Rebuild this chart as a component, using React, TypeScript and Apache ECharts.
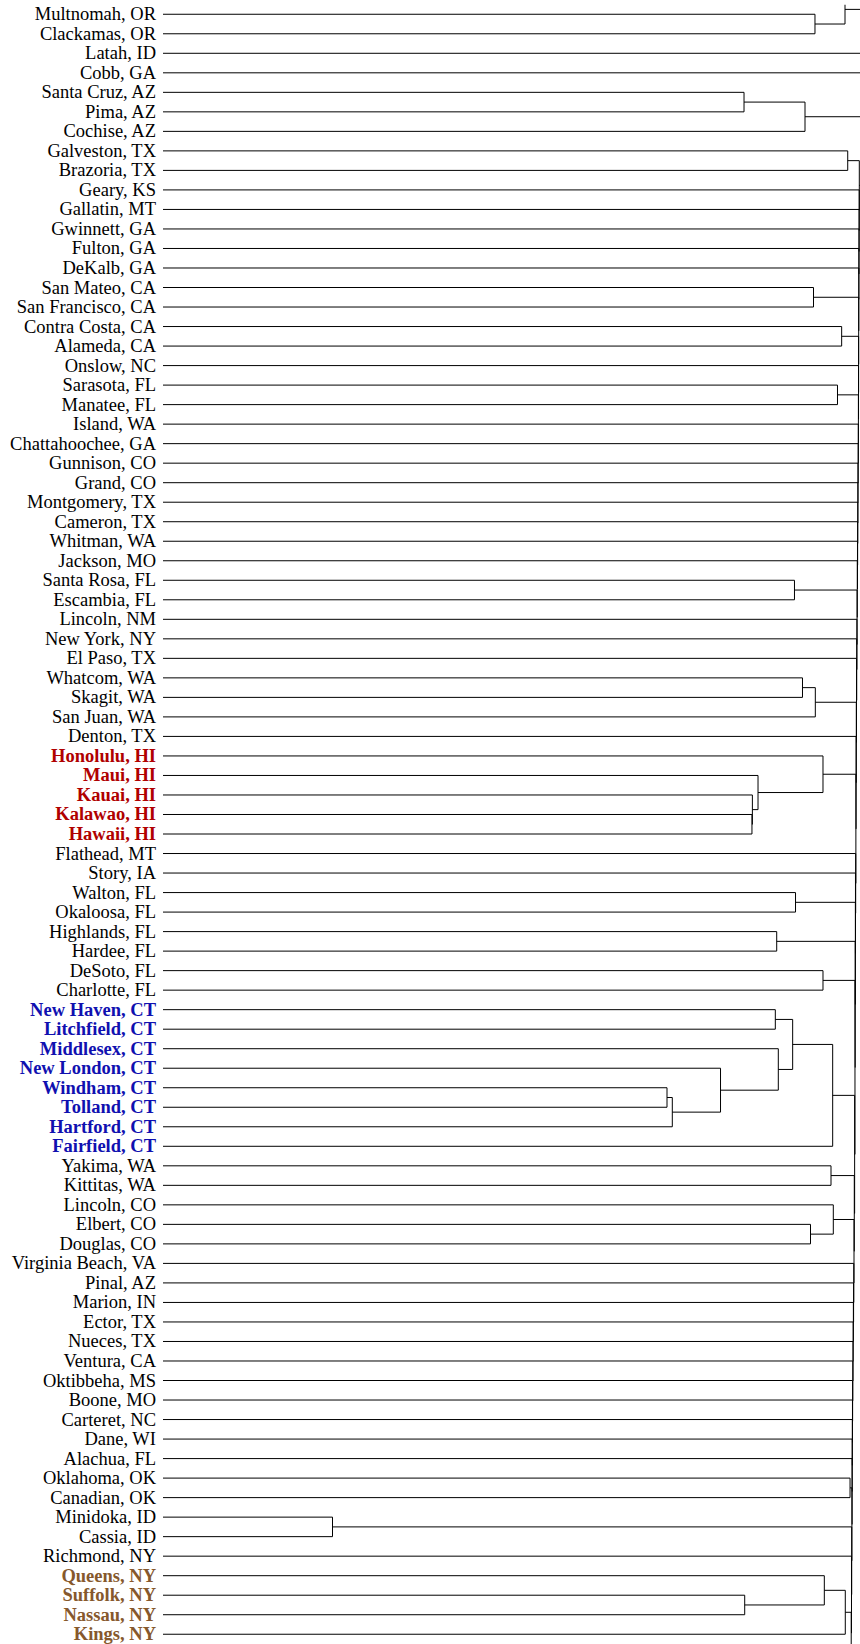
import React, { useEffect, useRef } from "react";
import * as echarts from "echarts";

// Leaf labels, top to bottom
const leafLabels: string[] = [
  "Multnomah, OR", "Clackamas, OR", "Latah, ID", "Cobb, GA", "Santa Cruz, AZ", "Pima, AZ", "Cochise, AZ",
  "Galveston, TX", "Brazoria, TX", "Geary, KS", "Gallatin, MT", "Gwinnett, GA", "Fulton, GA", "DeKalb, GA",
  "San Mateo, CA", "San Francisco, CA", "Contra Costa, CA", "Alameda, CA", "Onslow, NC", "Sarasota, FL",
  "Manatee, FL", "Island, WA", "Chattahoochee, GA", "Gunnison, CO", "Grand, CO", "Montgomery, TX",
  "Cameron, TX", "Whitman, WA", "Jackson, MO", "Santa Rosa, FL", "Escambia, FL", "Lincoln, NM",
  "New York, NY", "El Paso, TX", "Whatcom, WA", "Skagit, WA", "San Juan, WA", "Denton, TX",
  "Honolulu, HI", "Maui, HI", "Kauai, HI", "Kalawao, HI", "Hawaii, HI", "Flathead, MT", "Story, IA",
  "Walton, FL", "Okaloosa, FL", "Highlands, FL", "Hardee, FL", "DeSoto, FL", "Charlotte, FL",
  "New Haven, CT", "Litchfield, CT", "Middlesex, CT", "New London, CT", "Windham, CT", "Tolland, CT",
  "Hartford, CT", "Fairfield, CT", "Yakima, WA", "Kittitas, WA", "Lincoln, CO", "Elbert, CO", "Douglas, CO",
  "Virginia Beach, VA", "Pinal, AZ", "Marion, IN", "Ector, TX", "Nueces, TX", "Ventura, CA", "Oktibbeha, MS",
  "Boone, MO", "Carteret, NC", "Dane, WI", "Alachua, FL", "Oklahoma, OK", "Canadian, OK", "Minidoka, ID",
  "Cassia, ID", "Richmond, NY", "Queens, NY", "Suffolk, NY", "Nassau, NY", "Kings, NY",
];

const hawaiiLeaves = ["Honolulu, HI", "Maui, HI", "Kauai, HI", "Kalawao, HI", "Hawaii, HI"];
const connecticutLeaves = [
  "New Haven, CT", "Litchfield, CT", "Middlesex, CT", "New London, CT",
  "Windham, CT", "Tolland, CT", "Hartford, CT", "Fairfield, CT",
];
const newYorkLeaves = ["Queens, NY", "Suffolk, NY", "Nassau, NY", "Kings, NY"];

// leaves of the full tree that lie just outside the visible window
const OFF_ABOVE = "(off-view above)";
const OFF_BELOW = "(off-view below)";

// [cluster id, child A, child B, merge height]
type Merge = [string, string, string, number];

const subclusterMerges: Merge[] = [
  ["MC", "Multnomah, OR", "Clackamas, OR", 93.54],
  ["MC+", OFF_ABOVE, "MC", 97.85],
  ["SCP", "Santa Cruz, AZ", "Pima, AZ", 83.36],
  ["SCPC", "SCP", "Cochise, AZ", 92.11],
  ["GB", "Galveston, TX", "Brazoria, TX", 98.24],
  ["SMSF", "San Mateo, CA", "San Francisco, CA", 93.33],
  ["CCA", "Contra Costa, CA", "Alameda, CA", 97.37],
  ["SarMan", "Sarasota, FL", "Manatee, FL", 96.77],
  ["SRE", "Santa Rosa, FL", "Escambia, FL", 90.6],
  ["WS", "Whatcom, WA", "Skagit, WA", 91.75],
  ["WA3", "WS", "San Juan, WA", 93.59],
  ["KH", "Kalawao, HI", "Hawaii, HI", 84.5],
  ["KKH", "Kauai, HI", "KH", 84.56],
  ["MKKH", "Maui, HI", "KKH", 85.37],
  ["HI5", "Honolulu, HI", "MKKH", 94.69],
  ["WalOka", "Walton, FL", "Okaloosa, FL", 90.75],
  ["HighHard", "Highlands, FL", "Hardee, FL", 88.05],
  ["DeSChar", "DeSoto, FL", "Charlotte, FL", 94.69],
  ["NHL", "New Haven, CT", "Litchfield, CT", 87.85],
  ["WT", "Windham, CT", "Tolland, CT", 72.31],
  ["WTH", "WT", "Hartford, CT", 73.07],
  ["NL4", "New London, CT", "WTH", 79.99],
  ["MID5", "Middlesex, CT", "NL4", 88.28],
  ["CT7", "NHL", "MID5", 90.34],
  ["CT8", "CT7", "Fairfield, CT", 96.08],
  ["YakKit", "Yakima, WA", "Kittitas, WA", 95.84],
  ["ED", "Elbert, CO", "Douglas, CO", 92.9],
  ["CO3", "Lincoln, CO", "ED", 96.17],
  ["OklCan", "Oklahoma, OK", "Canadian, OK", 98.57],
  ["MinCas", "Minidoka, ID", "Cassia, ID", 24.32],
  ["SN", "Suffolk, NY", "Nassau, NY", 83.46],
  ["QSN", "Queens, NY", "SN", 94.88],
  ["NY4", "QSN", "Kings, NY", 97.89],
];

// the long chain on the right, built from the bottom up
const chainMerges: Merge[] = [
  ["N1", "NY4", OFF_BELOW, 98.74],
  ["N2", "Richmond, NY", "N1", 98.78],
  ["N3", "MinCas", "N2", 98.81],
  ["N4", "OklCan", "N3", 98.84],
  ["N5", "Alachua, FL", "N4", 98.87],
  ["N6", "Dane, WI", "N5", 98.88],
  ["N7", "Carteret, NC", "N6", 98.9],
  ["N8", "Boone, MO", "N7", 98.92],
  ["N9", "Oktibbeha, MS", "N8", 98.94],
  ["N10", "Ventura, CA", "N9", 98.97],
  ["N11", "Nueces, TX", "N10", 99.0],
  ["N12", "Ector, TX", "N11", 99.02],
  ["N13", "Marion, IN", "N12", 99.05],
  ["N14", "Pinal, AZ", "N13", 99.08],
  ["N15", "Virginia Beach, VA", "N14", 99.11],
  ["N16", "CO3", "N15", 99.14],
  ["N17", "YakKit", "N16", 99.18],
  ["N18", "CT8", "N17", 99.23],
  ["N19", "DeSChar", "N18", 99.28],
  ["N20", "HighHard", "N19", 99.31],
  ["N21", "WalOka", "N20", 99.34],
  ["N22", "Story, IA", "N21", 99.35],
  ["N23", "Flathead, MT", "N22", 99.38],
  ["N24", "HI5", "N23", 99.41],
  ["N25", "Denton, TX", "N24", 99.44],
  ["N26", "WA3", "N25", 99.47],
  ["N27", "El Paso, TX", "N26", 99.5],
  ["N28", "New York, NY", "N27", 99.53],
  ["N29", "Lincoln, NM", "N28", 99.56],
  ["N30", "SRE", "N29", 99.58],
  ["N31", "Jackson, MO", "N30", 99.61],
  ["N32", "Whitman, WA", "N31", 99.64],
  ["N33", "Cameron, TX", "N32", 99.66],
  ["N34", "Montgomery, TX", "N33", 99.68],
  ["N35", "Grand, CO", "N34", 99.7],
  ["N36", "Gunnison, CO", "N35", 99.71],
  ["N37", "Chattahoochee, GA", "N36", 99.74],
  ["N38", "Island, WA", "N37", 99.76],
  ["N39", "SarMan", "N38", 99.77],
  ["N40", "Onslow, NC", "N39", 99.79],
  ["N41", "CCA", "N40", 99.8],
  ["N42", "SMSF", "N41", 99.81],
  ["N43", "DeKalb, GA", "N42", 99.83],
  ["N44", "Fulton, GA", "N43", 99.84],
  ["N45", "Gwinnett, GA", "N44", 99.86],
  ["N46", "Gallatin, MT", "N45", 99.87],
  ["N47", "Geary, KS", "N46", 99.89],
  ["N48", "GB", "N47", 99.9],
];

// merges past the right edge of the visible window
const beyondViewMerges: Merge[] = [
  ["B1", "SCPC", "N48", 101.5],
  ["B2", "Cobb, GA", "B1", 102.5],
  ["B3", "Latah, ID", "B2", 103.5],
  ["B4", "MC+", "B3", 104.5],
];

const X_MAX = 100;
const Y_MIN = -0.5;
const Y_MAX = leafLabels.length - 0.5 + 0.3;

function buildSegments(): number[][] {
  const pos = new Map<string, number>();
  const height = new Map<string, number>();
  leafLabels.forEach((l, i) => {
    pos.set(l, i);
    height.set(l, 0);
  });
  pos.set(OFF_ABOVE, -1);
  height.set(OFF_ABOVE, 0);
  pos.set(OFF_BELOW, leafLabels.length);
  height.set(OFF_BELOW, 0);
  const segs: number[][] = [];
  const all = [...subclusterMerges, ...chainMerges, ...beyondViewMerges];
  for (const [id, a, b, h] of all) {
    const ya = pos.get(a)!;
    const yb = pos.get(b)!;
    const ha = height.get(a)!;
    const hb = height.get(b)!;
    segs.push([ha, ya, h, ya]);
    segs.push([hb, yb, h, yb]);
    segs.push([h, ya, h, yb]);
    pos.set(id, (ya + yb) / 2);
    height.set(id, h);
  }
  // clip to the visible window
  const out: number[][] = [];
  for (const [x1, y1, x2, y2] of segs) {
    if (y1 === y2) {
      if (y1 < Y_MIN || y1 > Y_MAX) continue;
      const a = Math.max(0, Math.min(x1, x2));
      const b = Math.min(X_MAX, Math.max(x1, x2));
      if (a >= X_MAX) continue;
      out.push([a, y1, b, y1]);
    } else {
      if (x1 > X_MAX) continue;
      const a = Math.max(Y_MIN, Math.min(y1, y2));
      const b = Math.min(Y_MAX, Math.max(y1, y2));
      if (a >= b) continue;
      out.push([x1, a, x1, b]);
    }
  }
  return out;
}

function labelColor(name: string): string | null {
  if (hawaiiLeaves.includes(name)) return "#b00000";
  if (connecticutLeaves.includes(name)) return "#1010b0";
  if (newYorkLeaves.includes(name)) return "#86582c";
  return null;
}

export default function App() {
  const ref = useRef<HTMLDivElement>(null);
  useEffect(() => {
    if (!ref.current) return;
    const chart = echarts.init(ref.current, undefined, { renderer: "svg" });
    const segments = buildSegments();
    const fontFamily = "'Liberation Serif', 'Times New Roman', serif";
    const catData = leafLabels.map((l) => {
      const c = labelColor(l);
      return c
        ? { value: l, textStyle: { color: c, fontWeight: "bold" as const } }
        : { value: l };
    });
    const top = 4.5;
    const bandH = 19.56;
    chart.setOption({
      animation: false,
      grid: {
        left: 163,
        right: 0,
        top,
        height: bandH * leafLabels.length,
        containLabel: false,
      },
      xAxis: { type: "value", min: 0, max: X_MAX, show: false },
      yAxis: [
        {
          type: "category",
          inverse: true,
          data: catData,
          axisLine: { show: false },
          axisTick: { show: false },
          splitLine: { show: false },
          axisLabel: {
            interval: 0,
            margin: 7,
            fontSize: 18.5,
            fontFamily,
            color: "#000",
          },
        },
        {
          type: "value",
          inverse: true,
          min: -0.5,
          max: leafLabels.length - 0.5,
          show: false,
        },
      ],
      series: [
        {
          type: "custom",
          xAxisIndex: 0,
          yAxisIndex: 1,
          clip: true,
          encode: { x: [0, 2], y: [1, 3] },
          data: segments,
          renderItem: (_params: any, api: any) => {
            const p1 = api.coord([api.value(0), api.value(1)]);
            const p2 = api.coord([api.value(2), api.value(3)]);
            return {
              type: "line",
              shape: { x1: p1[0], y1: p1[1], x2: p2[0], y2: p2[1] },
              style: { stroke: "#000", lineWidth: 1 },
            };
          },
        },
      ],
    });
    return () => chart.dispose();
  }, []);
  return (
    <div
      ref={ref}
      style={{ position: "absolute", left: 0, top: 0, width: 860, height: 1644, background: "#fff" }}
    />
  );
}
